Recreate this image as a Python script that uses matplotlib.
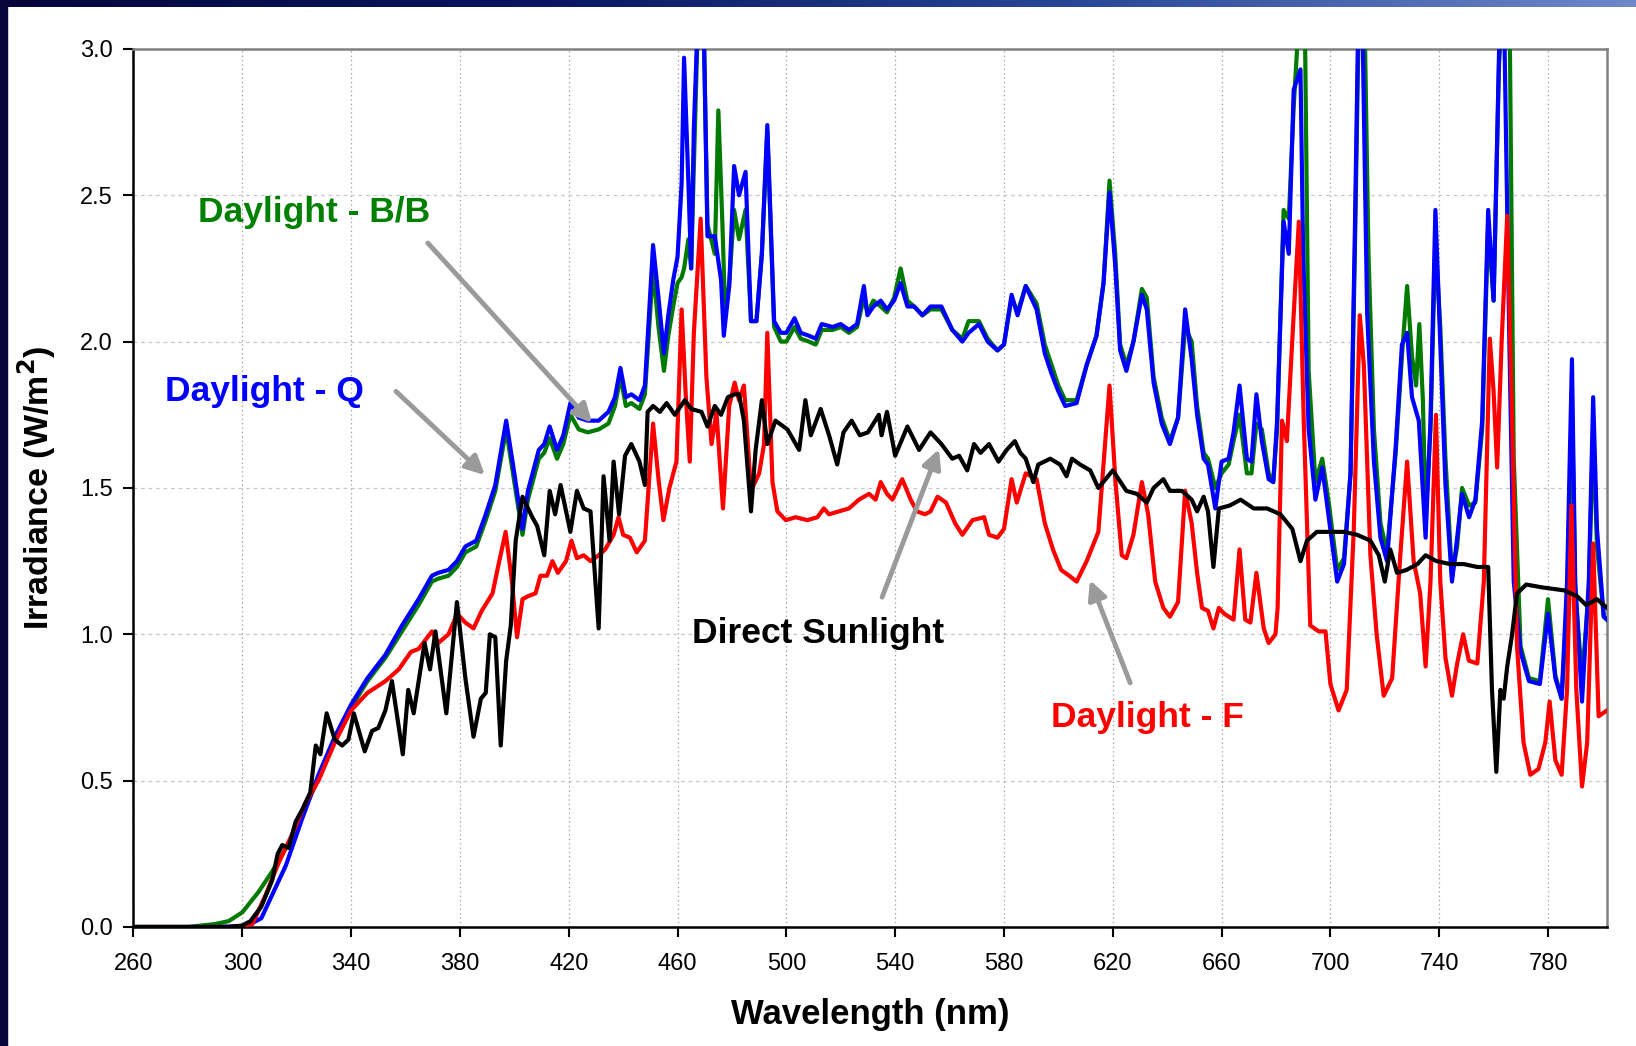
import numpy as np
import matplotlib.pyplot as plt
from matplotlib.colors import LinearSegmentedColormap

plt.rcParams['font.family'] = ['Liberation Sans', 'DejaVu Sans']

# Direct Sunlight (black)
sun_wl = [260, 280, 295, 300, 303, 307, 311, 313, 314.7, 317, 319.6, 322, 325, 327, 328.7, 331, 334, 336.7, 339, 341,
          345, 347.7, 350, 352.6, 355, 359, 361, 363, 367, 369, 371, 375, 378.9, 382, 385, 387.7, 389.5, 391, 393, 395,
          397, 398.7, 400.5, 403, 406.6, 408.4, 411, 413, 415, 417, 420.6, 423, 425.5, 428, 431, 432.8, 435, 436.5,
          438.5, 440.7, 443, 446, 448, 449, 451, 453.5, 456, 459, 462.7, 465, 468.8, 471, 473.7, 476, 478.5, 481,
          482.6, 484.4, 487, 488.7, 491, 493, 496, 500.4, 504.7, 507, 509, 512.6, 515.7, 518.7, 521, 524, 527, 530,
          534, 535, 537, 540, 544.5, 548.8, 553, 557, 561, 563.5, 566.5, 569, 571.4, 574.5, 578, 581, 584, 586, 588,
          590.8, 592.6, 597, 600.6, 603, 605, 608, 611.7, 614.7, 620, 625, 628.8, 632.5, 635, 638.6, 641, 645.4, 649,
          651, 653.4, 655, 657, 659, 663, 667, 671.8, 676.7, 681.6, 686, 689, 691.4, 695, 700, 705, 709.8, 714.7,
          717.8, 720, 722, 724.5, 728, 732, 735, 739, 744, 749, 754, 758, 759.4, 761, 762.5, 763.7, 765, 766.8, 768.6,
          772, 778, 786, 790.7, 794, 798, 801.7]
sun_val = [0, 0, 0, 0.005, 0.02, 0.07, 0.16, 0.25, 0.28, 0.27, 0.36, 0.40, 0.46, 0.62, 0.59, 0.73, 0.64, 0.62, 0.64,
           0.73, 0.60, 0.67, 0.68, 0.74, 0.84, 0.59, 0.81, 0.73, 0.97, 0.88, 1.01, 0.73, 1.11, 0.85, 0.65, 0.78, 0.80,
           1.0, 0.99, 0.62, 0.91, 1.03, 1.32, 1.47, 1.40, 1.37, 1.27, 1.49, 1.41, 1.51, 1.35, 1.49, 1.43, 1.42, 1.02,
           1.54, 1.32, 1.59, 1.41, 1.61, 1.65, 1.59, 1.51, 1.76, 1.78, 1.76, 1.79, 1.75, 1.80, 1.77, 1.76, 1.71, 1.78,
           1.75, 1.81, 1.82, 1.82, 1.73, 1.42, 1.63, 1.80, 1.65, 1.73, 1.70, 1.63, 1.80, 1.68, 1.77, 1.68, 1.58, 1.69,
           1.73, 1.68, 1.69, 1.75, 1.68, 1.76, 1.61, 1.71, 1.63, 1.69, 1.65, 1.60, 1.61, 1.56, 1.65, 1.62, 1.65, 1.59,
           1.63, 1.66, 1.62, 1.60, 1.52, 1.58, 1.60, 1.58, 1.54, 1.60, 1.58, 1.56, 1.50, 1.56, 1.49, 1.48, 1.45, 1.50,
           1.53, 1.49, 1.49, 1.46, 1.42, 1.47, 1.42, 1.23, 1.43, 1.44, 1.46, 1.43, 1.43, 1.41, 1.36, 1.25, 1.32, 1.35,
           1.35, 1.35, 1.34, 1.32, 1.27, 1.18, 1.29, 1.21, 1.22, 1.24, 1.27, 1.25, 1.24, 1.24, 1.23, 1.23, 0.81, 0.53,
           0.81, 0.78, 0.89, 1.0, 1.14, 1.17, 1.16, 1.15, 1.13, 1.10, 1.12, 1.09]

# Daylight - Q (blue)
q_wl = [260, 290, 300, 303, 307, 311, 316, 322, 328, 334, 340, 346, 352.6, 358.7, 364.8, 369.7, 372, 375.8, 378.9, 382,
        386, 389.5, 393, 397, 400, 403, 405, 409, 411, 413, 415.7, 418, 420.6, 423.7, 427, 431, 434.6, 437, 439, 441,
        443, 446, 448, 451, 453, 455, 456.6, 458.4, 460, 461.5, 462.4, 464, 465, 466, 467.8, 469.4, 471, 473.7, 476,
        477, 479, 480.8, 482.6, 485, 487, 489, 491, 493, 495.5, 498, 500, 503, 505.3, 508.3, 510.8, 513, 517, 520,
        523, 526, 528.5, 529.8, 532, 534.7, 537, 539.6, 542, 544.5, 547, 550, 553, 557, 561, 564.7, 567, 570.8, 574,
        577.6, 580, 582.8, 585, 588, 592, 595, 597.5, 600, 602.5, 606.7, 610.4, 614, 616.6, 618.8, 620.9, 622.7, 625,
        627.6, 630.7, 632.5, 635, 638, 641, 644, 646.6, 649, 651, 653.4, 655, 657.7, 660, 662.6, 664.4, 666.6, 669.3,
        671, 672.8, 674.8, 677.3, 679, 680.4, 682.8, 684.7, 686.5, 689, 690, 692, 694.5, 697, 699.4, 702.5, 705,
        707.4, 709, 710.4, 711.6, 713.5, 716, 718.4, 720.8, 724, 726.3, 728.2, 730, 732.5, 735, 736.8, 738.6, 740.4,
        742.3, 744.7, 746.6, 748.4, 751, 753.3, 755.8, 758, 760, 762, 763.7, 765.6, 767.4, 769.9, 773, 777, 780,
        782.7, 785, 787, 788.8, 790, 792.5, 795, 796.6, 798, 800.5, 801.7]
q_val = [0, 0, 0.003, 0.01, 0.03, 0.11, 0.21, 0.37, 0.52, 0.65, 0.76, 0.85, 0.93, 1.03, 1.12, 1.20, 1.21, 1.22, 1.25,
         1.30, 1.32, 1.41, 1.51, 1.73, 1.55, 1.36, 1.49, 1.63, 1.65, 1.71, 1.63, 1.68, 1.79, 1.74, 1.73, 1.73, 1.76,
         1.81, 1.91, 1.81, 1.82, 1.80, 1.85, 2.33, 2.15, 1.96, 2.09, 2.21, 2.29, 2.54, 2.97, 2.54, 2.25, 2.73, 3.2,
         3.2, 2.36, 2.36, 2.21, 2.02, 2.19, 2.6, 2.5, 2.58, 2.07, 2.07, 2.30, 2.74, 2.07, 2.03, 2.03, 2.08, 2.03, 2.02,
         2.01, 2.06, 2.05, 2.06, 2.04, 2.06, 2.19, 2.09, 2.12, 2.14, 2.11, 2.14, 2.20, 2.12, 2.12, 2.09, 2.12, 2.12,
         2.04, 2.0, 2.03, 2.06, 2.0, 1.97, 1.99, 2.16, 2.09, 2.19, 2.11, 1.96, 1.89, 1.83, 1.78, 1.79, 1.92, 2.02,
         2.2, 2.51, 2.26, 1.97, 1.90, 2.0, 2.16, 2.11, 1.86, 1.72, 1.65, 1.74, 2.11, 1.94, 1.75, 1.60, 1.58, 1.43,
         1.59, 1.60, 1.69, 1.85, 1.60, 1.59, 1.82, 1.66, 1.53, 1.52, 1.73, 2.41, 2.30, 2.86, 2.93, 2.29, 1.70, 1.46,
         1.57, 1.40, 1.18, 1.24, 1.55, 2.38, 3.2, 3.2, 2.10, 1.59, 1.33, 1.25, 1.64, 1.99, 2.03, 1.81, 1.73, 1.33,
         1.73, 2.45, 1.99, 1.51, 1.18, 1.33, 1.48, 1.40, 1.46, 1.73, 2.45, 2.14, 2.99, 3.2, 2.10, 1.18, 0.94, 0.84,
         0.83, 1.07, 0.85, 0.78, 1.18, 1.94, 1.18, 0.77, 1.18, 1.81, 1.36, 1.06, 1.05]

# Daylight - B/B (green)
bb_wl = [260, 280, 285, 290, 295, 300, 306, 311, 316, 322, 328, 334, 340, 346, 352.6, 358.7, 364.8, 369.7, 372, 375.8,
         378.9, 382, 386, 389.5, 393, 397, 400, 403, 405, 409, 411, 413, 415.7, 418, 420.6, 423.7, 427, 431, 434.6,
         437, 439, 441, 443, 446, 448, 451, 453, 455, 456.6, 458.4, 460, 461.5, 462.4, 464, 465, 466, 467.8, 469.4,
         471, 473.7, 475, 476.5, 477.5, 479, 480.8, 482.6, 485, 487, 489, 491, 493, 495.5, 498, 500, 503, 505.3,
         508.3, 510.8, 513, 517, 520, 523, 526, 528.5, 529.8, 532, 534.7, 537, 539.6, 542, 544.5, 547, 550, 553, 557,
         561, 564.7, 567, 570.8, 574, 577.6, 580, 582.8, 585, 588, 592, 595, 597.5, 600, 602.5, 606.7, 610.4, 614,
         616.6, 618.8, 620.9, 622.7, 625, 627.6, 630.7, 632.5, 635, 638, 641, 644, 646.6, 649, 651, 653.4, 655,
         657.7, 660, 662.6, 664.4, 666.6, 669.3, 671, 672.8, 674.8, 677.3, 679, 680.4, 682.8, 684.7, 686.5, 689,
         690.5, 692, 694.5, 697, 699.4, 702.5, 705, 707.4, 709, 710.6, 712.4, 714, 716, 718.4, 720.8, 724, 726.3,
         728.2, 730, 731.5, 732.7, 734, 735, 736.8, 738.6, 740.4, 742.3, 744.7, 746.6, 748.4, 751, 753.3, 755.8, 758,
         760, 762, 763.7, 765.8, 767.4, 769.9, 773, 777, 780, 782.7, 785, 787, 788.8, 790, 792.5, 795, 796.6, 798,
         800.5, 801.7]
bb_val = [0, 0, 0.005, 0.01, 0.02, 0.05, 0.12, 0.19, 0.27, 0.38, 0.51, 0.64, 0.75, 0.84, 0.92, 1.01, 1.10, 1.18, 1.19,
          1.20, 1.23, 1.28, 1.30, 1.39, 1.49, 1.70, 1.52, 1.34, 1.46, 1.60, 1.62, 1.67, 1.60, 1.65, 1.75, 1.70, 1.69,
          1.70, 1.72, 1.78, 1.88, 1.78, 1.79, 1.77, 1.82, 2.25, 2.05, 1.90, 2.02, 2.12, 2.20, 2.22, 2.25, 2.35, 2.25,
          2.6, 3.2, 3.2, 2.40, 2.30, 2.79, 2.40, 2.1, 2.2, 2.45, 2.35, 2.45, 2.07, 2.07, 2.30, 2.72, 2.05, 2.00, 2.00,
          2.05, 2.01, 2.00, 1.99, 2.04, 2.04, 2.05, 2.03, 2.05, 2.15, 2.10, 2.14, 2.12, 2.10, 2.15, 2.25, 2.14, 2.12,
          2.09, 2.11, 2.11, 2.04, 2.01, 2.07, 2.07, 2.01, 1.97, 1.99, 2.15, 2.10, 2.19, 2.13, 1.99, 1.92, 1.85, 1.80,
          1.80, 1.92, 2.02, 2.2, 2.55, 2.30, 1.99, 1.92, 2.0, 2.18, 2.15, 1.88, 1.74, 1.66, 1.74, 2.05, 2.0, 1.78,
          1.62, 1.60, 1.50, 1.55, 1.58, 1.66, 1.75, 1.55, 1.55, 1.72, 1.70, 1.55, 1.52, 1.70, 2.45, 2.42, 2.80, 3.2,
          3.2, 1.90, 1.52, 1.60, 1.45, 1.22, 1.26, 1.55, 2.30, 3.2, 3.2, 2.30, 1.70, 1.38, 1.28, 1.62, 1.95, 2.19,
          1.95, 1.85, 2.06, 1.80, 1.40, 1.70, 2.35, 2.05, 1.60, 1.20, 1.30, 1.50, 1.44, 1.45, 1.70, 2.40, 2.14, 2.95,
          3.2, 3.2, 1.60, 0.96, 0.85, 0.84, 1.12, 0.86, 0.78, 1.10, 1.80, 1.15, 0.85, 1.15, 1.70, 1.30, 1.06, 1.05]

# Daylight - F (red)
f_wl = [260, 295, 300, 303.7, 308.6, 313.4, 318, 323, 328, 334, 340, 346, 352.6, 357.5, 362, 364.8, 369.7, 372, 375.8,
        379, 382, 385, 388, 392, 394, 396.8, 399, 401, 403, 405, 407.8, 409.6, 412, 414, 416, 419, 421, 423, 425.5,
        428, 431, 433.4, 436.5, 438.3, 440, 442.5, 445, 448, 451, 453, 454.8, 457, 459.6, 461.5, 463, 464.5, 466,
        468.5, 470.6, 472.5, 474.3, 476.7, 479, 481, 482.6, 484.4, 487, 490, 491.8, 493, 494.9, 496.7, 499.8, 503.4,
        507.7, 511.4, 513.8, 515.7, 519.4, 523, 526.7, 530.4, 532.8, 534.7, 537, 539, 542.6, 545.7, 548, 551, 553,
        555.6, 558.7, 562, 564.7, 568.4, 572.7, 574.5, 577.6, 580, 582.8, 584.7, 588, 592, 595, 598, 601, 604, 606.7,
        610.4, 614.7, 617, 618.8, 621, 623.3, 625, 627.6, 630.7, 633, 635.6, 638.6, 641, 644, 646.6, 649, 651, 652.8,
        655, 657, 659, 661, 664.4, 666.6, 668.7, 670.6, 672.8, 675.5, 677.3, 679.8, 680.6, 682.2, 684, 685.9, 688.4,
        690.2, 692.6, 695.7, 698.2, 700, 703, 706, 708.6, 710.8, 712.3, 714.7, 717, 719.6, 722.7, 725.7, 728.2,
        730.6, 733, 735, 736.8, 738.8, 740.4, 742.3, 744.7, 746.6, 748.8, 750.9, 754, 756.4, 758.6, 760, 761.3, 763,
        765, 766.8, 768.6, 771, 773.5, 776.5, 779, 780.6, 782.7, 785, 787, 788.6, 790.4, 792.5, 794.4, 796.6, 798.6,
        801.7]
f_val = [0, 0, 0.003, 0.01, 0.11, 0.22, 0.31, 0.42, 0.50, 0.63, 0.74, 0.80, 0.84, 0.88, 0.94, 0.95, 1.01, 0.97, 1.00,
         1.07, 1.04, 1.02, 1.08, 1.14, 1.23, 1.35, 1.19, 0.99, 1.12, 1.13, 1.14, 1.20, 1.20, 1.25, 1.21, 1.25, 1.32,
         1.26, 1.27, 1.25, 1.27, 1.29, 1.34, 1.40, 1.34, 1.33, 1.28, 1.32, 1.72, 1.53, 1.39, 1.50, 1.59, 2.11, 1.82,
         1.59, 2.03, 2.42, 1.88, 1.65, 1.76, 1.43, 1.78, 1.86, 1.80, 1.85, 1.49, 1.55, 1.65, 2.03, 1.52, 1.42, 1.39,
         1.40, 1.39, 1.40, 1.43, 1.41, 1.42, 1.43, 1.46, 1.48, 1.46, 1.52, 1.48, 1.46, 1.53, 1.46, 1.42, 1.41, 1.42,
         1.47, 1.45, 1.38, 1.34, 1.39, 1.40, 1.34, 1.33, 1.36, 1.53, 1.45, 1.55, 1.53, 1.38, 1.29, 1.22, 1.20, 1.18,
         1.25, 1.35, 1.63, 1.85, 1.52, 1.27, 1.26, 1.34, 1.52, 1.41, 1.18, 1.09, 1.06, 1.11, 1.49, 1.38, 1.21, 1.09,
         1.08, 1.02, 1.09, 1.07, 1.05, 1.29, 1.05, 1.04, 1.21, 1.02, 0.97, 1.00, 1.09, 1.73, 1.66, 1.99, 2.41, 1.73,
         1.03, 1.01, 1.01, 0.83, 0.74, 0.81, 1.36, 2.09, 1.92, 1.27, 1.00, 0.79, 0.85, 1.27, 1.59, 1.25, 1.14, 0.89,
         1.18, 1.75, 1.18, 0.92, 0.79, 0.90, 1.00, 0.91, 0.90, 1.18, 2.01, 1.83, 1.57, 2.01, 2.43, 1.73, 0.96, 0.63,
         0.52, 0.54, 0.63, 0.77, 0.57, 0.52, 0.81, 1.44, 0.81, 0.48, 0.63, 1.31, 0.72, 0.74]

x_ticks = list(range(260, 800, 40))
y_ticks = [0.0, 0.5, 1.0, 1.5, 2.0, 2.5, 3.0]

fig = plt.figure(figsize=(16.36, 10.46), dpi=100, facecolor='white')

# dark slide border (left bar + gradient top bar)
fig.patches.append(plt.Rectangle((0, 0), 7 / 1636, 1, transform=fig.transFigure, color='#06063a', zorder=0))
bar = fig.add_axes([0, 1 - 7 / 1046, 1, 7 / 1046])
bar.imshow(np.linspace(0, 1, 256)[None, :], aspect='auto',
           cmap=LinearSegmentedColormap.from_list('bar', ['#06063a', '#0a1660', '#2a4898', '#7088c8']))
bar.axis('off')

ax = fig.add_axes([0.0816, 0.1138, 0.9007, 0.8394])
ax.plot(bb_wl, bb_val, color='#007a00', lw=3.0, zorder=3)
ax.plot(q_wl, q_val, color='#0000ff', lw=3.0, zorder=4)
ax.plot(f_wl, f_val, color='#ff0000', lw=3.0, zorder=5)
ax.plot(sun_wl, sun_val, color='black', lw=3.0, zorder=6)

ax.set_xlim(260, 801.7)
ax.set_ylim(0, 3.0)
ax.set_xticks(x_ticks)
ax.set_yticks(y_ticks)
ax.set_yticklabels([f'{v:.1f}' for v in y_ticks])
ax.tick_params(axis='both', direction='out', length=7, width=1.5, labelsize=17, pad=8)
ax.tick_params(axis='x', pad=12)
ax.grid(axis='x', linestyle=(0, (1, 2.5)), color='#999999', lw=0.9)
ax.grid(axis='y', linestyle=(0, (3, 3)), color='#c8c8c8', lw=0.9)
ax.set_axisbelow(True)
for side in ['left', 'bottom']:
    ax.spines[side].set_color('black')
    ax.spines[side].set_linewidth(1.8)
for side in ['top', 'right']:
    ax.spines[side].set_color('#808080')
    ax.spines[side].set_linewidth(1.8)

ax.set_xlabel('Wavelength (nm)', fontsize=25, fontweight='bold', labelpad=16)
ax.set_ylabel('Irradiance (W/m$^\\mathbf{2}$)', fontsize=24.5, fontweight='bold', labelpad=16)

arrow = dict(arrowstyle='-|>', color='#9a9a9a', lw=3.5, mutation_scale=28, shrinkA=0, shrinkB=0)
ax.annotate('', xy=(428.6, 1.722), xytext=(368.2, 2.337), arrowprops=arrow, zorder=8)
ax.annotate('', xy=(389.2, 1.544), xytext=(356.5, 1.83), arrowprops=arrow, zorder=8)
ax.annotate('', xy=(556.1, 1.633), xytext=(535.2, 1.127), arrowprops=arrow, zorder=8)
ax.annotate('', xy=(611.6, 1.185), xytext=(626.4, 0.834), arrowprops=arrow, zorder=8)

lab = dict(fontsize=25.5, fontweight='bold', va='center', ha='left', zorder=9)
ax.text(283.7, 2.44, 'Daylight - B/B', color='#008000', **lab)
ax.text(271.6, 1.83, 'Daylight - Q', color='#0000ff', **lab)
ax.text(465.3, 1.004, 'Direct Sunlight', color='black', **lab)
ax.text(597.3, 0.714, 'Daylight - F', color='#ff0000', **lab)

fig.savefig('out.png', dpi=100, facecolor='white')
